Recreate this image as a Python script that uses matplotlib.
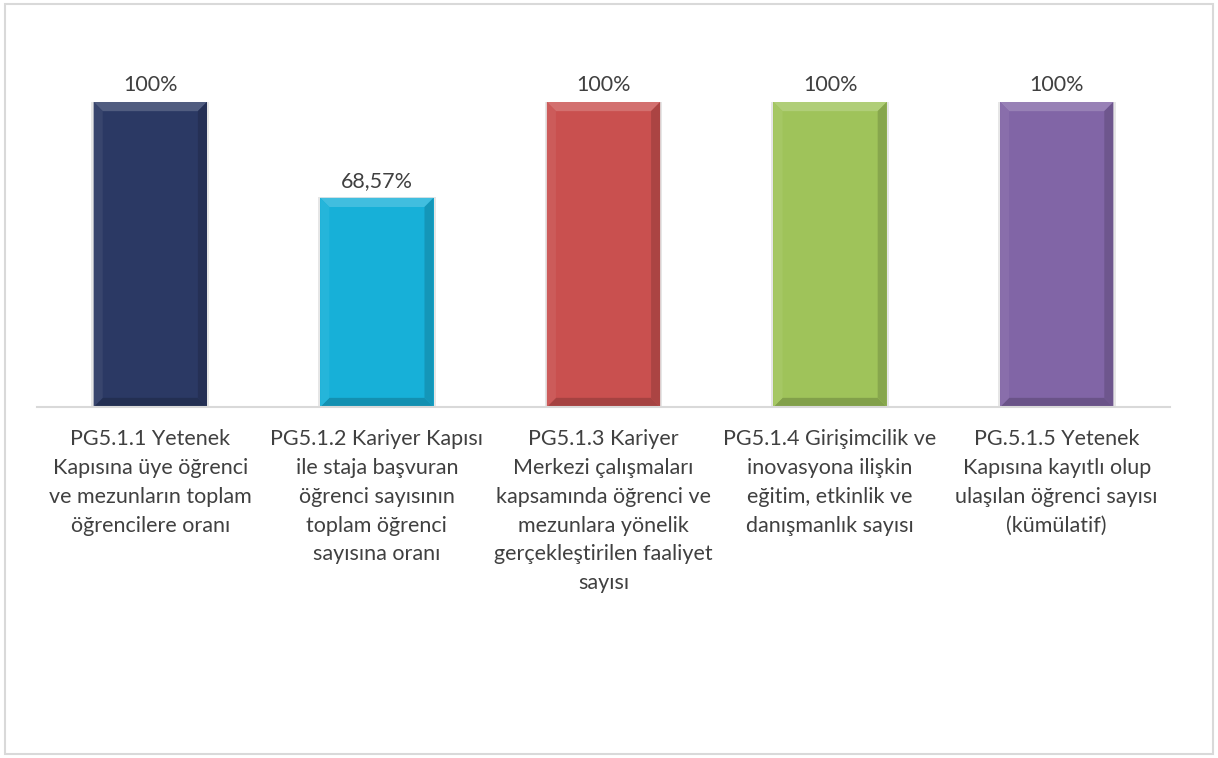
import numpy as np
import matplotlib.pyplot as plt
from matplotlib.patches import Polygon, Rectangle

# data
labels = [
    "PG5.1.1 Yetenek\nKapısına üye öğrenci\nve mezunların toplam\nöğrencilere oranı",
    "PG5.1.2 Kariyer Kapısı\nile staja başvuran\nöğrenci sayısının\ntoplam öğrenci\nsayısına oranı",
    "PG5.1.3 Kariyer\nMerkezi çalışmaları\nkapsamında öğrenci ve\nmezunlara yönelik\ngerçekleştirilen faaliyet\nsayısı",
    "PG5.1.4 Girişimcilik ve\ninovasyona ilişkin\neğitim, etkinlik ve\ndanışmanlık sayısı",
    "PG.5.1.5 Yetenek\nKapısına kayıtlı olup\nulaşılan öğrenci sayısı\n(kümülatif)",
]
values = [100, 68.57, 100, 100, 100]
value_text = ["100%", "68,57%", "100%", "100%", "100%"]
colors = ["#2b3964", "#17b0d8", "#c9504f", "#9fc35a", "#8165a6"]


def shade(c, f):
    r, g, b = plt.matplotlib.colors.to_rgb(c)
    if f > 0:
        return (r + (1 - r) * f, g + (1 - g) * f, b + (1 - b) * f)
    return (r * (1 + f), g * (1 + f), b * (1 + f))


def main():
    plt.rcParams['font.family'] = ['Lato', 'DejaVu Sans']
    fig = plt.figure(figsize=(12.18, 7.58), dpi=100)

    # outer frame
    fig.patches.append(Rectangle((0.004, 0.005), 0.992, 0.99, transform=fig.transFigure,
                                 fill=False, edgecolor='#d9d9d9', linewidth=1.5))

    ax = fig.add_axes([37 / 1218, 1 - 407 / 758, (1170 - 37) / 1218, (407 - 102) / 758])
    x = np.arange(len(values))
    w = 0.5
    bars = ax.bar(x, values, width=w, color=colors, zorder=2)

    # bevel effect on each bar
    for b, c in zip(bars, colors):
        x0, x1 = b.get_x(), b.get_x() + b.get_width()
        h = b.get_height()
        dx = 0.04
        dy = 3.0
        ax.add_patch(Polygon([(x0, h), (x1, h), (x1 - dx, h - dy), (x0 + dx, h - dy)],
                             color=shade(c, 0.18), zorder=3, lw=0))
        ax.add_patch(Polygon([(x0, 0), (x1, 0), (x1 - dx, dy), (x0 + dx, dy)],
                             color=shade(c, -0.18), zorder=3, lw=0))
        ax.add_patch(Polygon([(x0, 0), (x0 + dx, dy), (x0 + dx, h - dy), (x0, h)],
                             color=shade(c, 0.06), zorder=3, lw=0))
        ax.add_patch(Polygon([(x1, 0), (x1 - dx, dy), (x1 - dx, h - dy), (x1, h)],
                             color=shade(c, -0.15), zorder=3, lw=0))
        # soft shadow
        ax.add_patch(Rectangle((x0 - 0.01, -0.5), x1 - x0 + 0.02, h + 0.8,
                               color='#e6e6e6', zorder=1, lw=0))

    for i, (v, t) in enumerate(zip(values, value_text)):
        ax.annotate(t, (i, v), xytext=(0, 12), textcoords='offset points',
                    ha='center', va='center', fontsize=15.5, color='#404040')
        ax.annotate(labels[i], (i, 0), xytext=(0, -16), textcoords='offset points',
                    ha='center', va='top', fontsize=15.5, color='#404040',
                    linespacing=1.55)

    ax.set_xlim(-0.5, len(values) - 0.5)
    ax.set_ylim(0, 100)
    ax.set_yticks([])
    ax.set_xticks([])
    for s in ['top', 'left', 'right']:
        ax.spines[s].set_visible(False)
    ax.spines['bottom'].set_color('#d9d9d9')
    ax.spines['bottom'].set_linewidth(1.5)
    ax.spines['bottom'].set_zorder(4)

    plt.savefig('out.png', dpi=100)


if __name__ == '__main__':
    main()
